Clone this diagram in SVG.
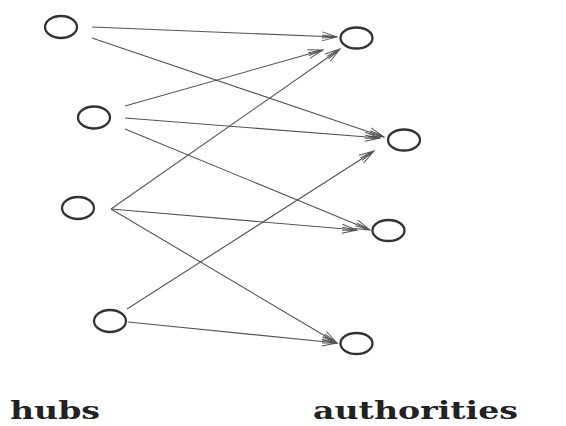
<svg xmlns="http://www.w3.org/2000/svg" width="566" height="426" viewBox="0 0 566 426">
<defs>
<style>
.node ellipse{fill:#fff;stroke:#333;stroke-width:2.3}
.edges line{stroke:#555;stroke-width:1.1;fill:none}
.lbl{font-family:"DejaVu Serif","Liberation Serif",serif;font-weight:bold;font-size:24px;fill:#222}
</style>
<marker id="arr" markerUnits="userSpaceOnUse" markerWidth="20" markerHeight="12" viewBox="-16 -6 18 12" refX="0" refY="0" orient="auto">
<path d="M-15,-4.5 L0,0 L-15,4.5 M-15,-1.5 L0,0 L-15,1.5" fill="none" stroke="#555" stroke-width="1"/>
</marker>
</defs>
<rect width="566" height="426" fill="#fff"/>
<g id="connectors" class="edges">
<line x1="92" y1="27" x2="337" y2="37" marker-end="url(#arr)"/>
<line x1="92" y1="38" x2="384" y2="137" marker-end="url(#arr)"/>
<line x1="125" y1="106" x2="323" y2="50" marker-end="url(#arr)"/>
<line x1="125" y1="118" x2="380" y2="138" marker-end="url(#arr)"/>
<line x1="125" y1="129" x2="370" y2="230" marker-end="url(#arr)"/>
<line x1="111" y1="209" x2="340" y2="49" marker-end="url(#arr)"/>
<line x1="111" y1="209" x2="357" y2="230" marker-end="url(#arr)"/>
<line x1="111" y1="209" x2="337" y2="343" marker-end="url(#arr)"/>
<line x1="127" y1="309" x2="374" y2="151" marker-end="url(#arr)"/>
<line x1="128" y1="322" x2="337" y2="343" marker-end="url(#arr)"/>
</g>
<g id="hub1" class="node"><ellipse cx="61" cy="27" rx="16" ry="11"/></g>
<g id="hub2" class="node"><ellipse cx="94" cy="117.5" rx="16" ry="11"/></g>
<g id="hub3" class="node"><ellipse cx="78" cy="208" rx="16" ry="11"/></g>
<g id="hub4" class="node"><ellipse cx="110" cy="321" rx="16" ry="11"/></g>
<g id="auth1" class="node"><ellipse cx="356.5" cy="38" rx="16" ry="10.5"/></g>
<g id="auth2" class="node"><ellipse cx="404" cy="140" rx="16" ry="10.5"/></g>
<g id="auth3" class="node"><ellipse cx="388.5" cy="230.5" rx="16" ry="10.5"/></g>
<g id="auth4" class="node"><ellipse cx="356.5" cy="343.5" rx="16" ry="10.5"/></g>
<text class="lbl" x="10" y="419" textLength="90" lengthAdjust="spacingAndGlyphs">hubs</text>
<text class="lbl" x="313" y="419" textLength="205" lengthAdjust="spacingAndGlyphs">authorities</text>
</svg>
